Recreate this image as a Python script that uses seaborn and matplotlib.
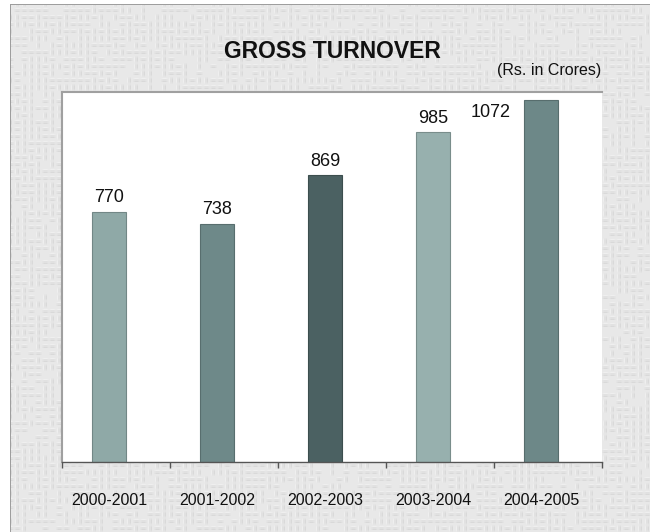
import numpy as np
import pandas as pd
import matplotlib
matplotlib.use("Agg")
import matplotlib.pyplot as plt
import seaborn as sns

# Gross turnover per financial year (Rs. in Crores)
years = ["2000-2001", "2001-2002", "2002-2003", "2003-2004", "2004-2005"]
turnover = [770, 738, 869, 985, 1072]
bar_colors = ["#8fa9a7", "#6e8989", "#4b6162", "#97b0ae", "#6d8888"]

title = "GROSS TURNOVER"
unit_note = "(Rs. in Crores)"

df = pd.DataFrame({"year": years, "turnover": turnover})

sns.set_theme(style="white")
plt.rcParams["font.family"] = ["Liberation Sans", "DejaVu Sans"]

W, H = 656, 532
fig = plt.figure(figsize=(W / 100, H / 100), dpi=100)
fig.patch.set_facecolor("white")

# ---- embossed paper background -------------------------------------------
yy, xx = np.mgrid[0:H, 0:W].astype(np.int64)
s = 7
ci, cj = yy // s, xx // s
ly, lx = yy % s, xx % s
h = ((ci * 73856093) ^ (cj * 19349663)) % 7
tex = np.full((H, W), 0.91)
horiz = (h % 2 == 0) & (h != 6)
vert = (h % 2 == 1)
inside_h = (lx >= 1) & (lx <= 5)
inside_v = (ly >= 1) & (ly <= 5)
tex[horiz & inside_h & (ly == 2)] = 1.0
tex[horiz & inside_h & (ly == 3)] = 0.74
tex[vert & inside_v & (lx == 2)] = 1.0
tex[vert & inside_v & (lx == 3)] = 0.74
# soften the weave a little
pad = np.pad(tex, 1, mode="edge")
tex = sum(pad[1 + dy:1 + dy + H, 1 + dx:1 + dx + W]
          for dy in (-1, 0, 1) for dx in (-1, 0, 1)) / 9.0

frame = np.ones((H, W))
x0, x1, y0 = 11, 650, 5
frame[y0:, x0:x1] = tex[y0:, x0:x1]
frame[y0 - 1:, x0 - 1] = 0.62
frame[y0 - 1, x0 - 1:x1] = 0.62
rgb = np.dstack([frame, frame, frame])
fig.figimage(rgb, xo=0, yo=0, origin="upper", zorder=-1)

# ---- bar chart ------------------------------------------------------------
left, right, top, bottom = 62, 602, 92, 462
ax = fig.add_axes([left / W, 1 - bottom / H, (right - left) / W, (bottom - top) / H])
ax.set_facecolor("white")

sns.barplot(data=df, x="year", y="turnover", hue="year", palette=bar_colors,
            width=0.32, legend=False, ax=ax, saturation=1)
for patch, c in zip(ax.patches, bar_colors):
    patch.set_edgecolor(tuple(v * 0.8 for v in matplotlib.colors.to_rgb(c)))
    patch.set_linewidth(0.8)

ax.set_xlim(-0.435, 4.565)
ax.set_ylim(97, 1093)
ax.set_xlabel("")
ax.set_ylabel("")
ax.set_yticks([])

# value labels above the bars; the last one sits beside its bar
for i, v in enumerate(turnover):
    if i == len(turnover) - 1:
        ax.annotate(str(v), xy=(i, v), xytext=(-36, -9), textcoords="offset points",
                    ha="center", va="center", fontsize=13, color="#111111")
    else:
        ax.annotate(str(v), xy=(i, v), xytext=(0, 4), textcoords="offset points",
                    ha="center", va="bottom", fontsize=13, color="#111111")

# axis: tick marks at category boundaries, labels under each bar
ax.set_xticks(range(len(years)))
ax.set_xticklabels(years, fontsize=11.5, color="#111111")
ax.set_xticks(np.arange(len(years) + 1) - 0.435, minor=True)
ax.tick_params(axis="x", which="major", length=0, pad=22)
ax.tick_params(axis="x", which="minor", length=4, width=1, color="#555555",
               direction="out", bottom=True)

for side in ("left", "top"):
    ax.spines[side].set_visible(True)
    ax.spines[side].set_color("#a0a0a0")
    ax.spines[side].set_linewidth(1.5)
ax.spines["right"].set_visible(False)
ax.spines["bottom"].set_visible(True)
ax.spines["bottom"].set_color("#555555")
ax.spines["bottom"].set_linewidth(1.0)

# ---- headings -------------------------------------------------------------
fig.text(332 / W, 1 - 51 / H, title, ha="center", va="center",
         fontsize=16.5, fontweight="bold", color="#111111")
fig.text(549 / W, 1 - 71 / H, unit_note, ha="center", va="center",
         fontsize=11.5, color="#111111")

fig.savefig("out.png", dpi=100)
